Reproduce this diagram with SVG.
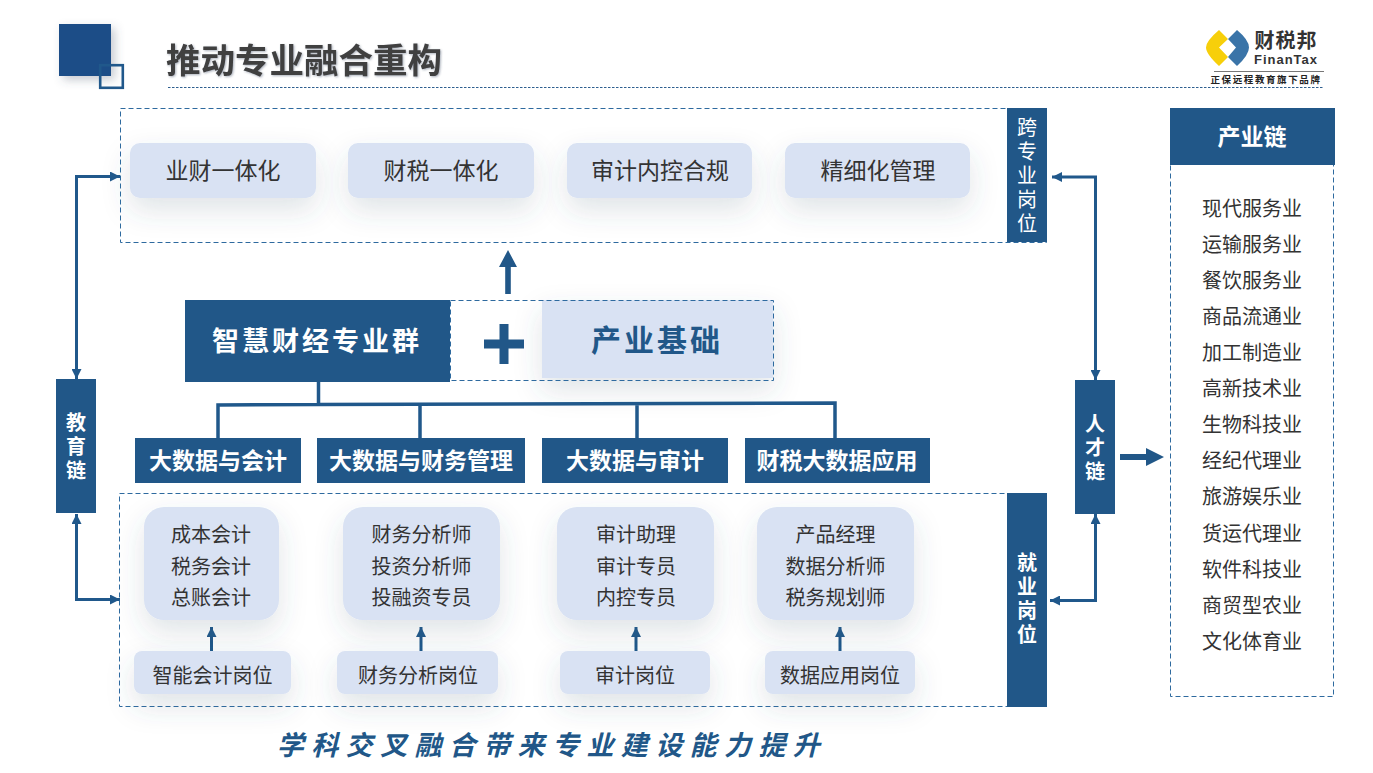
<svg xmlns="http://www.w3.org/2000/svg" width="1373" height="773" viewBox="0 0 1373 773">
<defs>
<filter id="sh" x="-40%" y="-60%" width="180%" height="260%"><feDropShadow dx="0" dy="12" stdDeviation="14" flood-color="#44546a" flood-opacity="0.16"/></filter>
<filter id="sh2" x="-30%" y="-30%" width="170%" height="170%"><feDropShadow dx="4" dy="4" stdDeviation="5" flood-color="#44546a" flood-opacity="0.3"/></filter>
<filter id="ts" x="-5%" y="-20%" width="110%" height="150%"><feDropShadow dx="1" dy="1" stdDeviation="1" flood-color="#44546a" flood-opacity="0.45"/></filter>
<marker id="ah" markerWidth="10" markerHeight="10" refX="8" refY="4" orient="auto-start-reverse" markerUnits="userSpaceOnUse" viewBox="0 0 8 8"><path d="M0 0L8 4L0 8Z" fill="#20588b"/></marker>
</defs>
<style>
text{font-family:"Noto Sans CJK SC","Noto Sans",sans-serif;text-anchor:middle}
.dash{fill:none;stroke:#2e6a9f;stroke-width:1;stroke-dasharray:5 3}
.pill{fill:#d9e2f3;filter:url(#sh)}
.blue{fill:#215788}
.conn{fill:none;stroke:#20588b;stroke-width:3}
.t23{font-size:23px;fill:#333}
.t20{font-size:20px;fill:#333}
.h23{font-size:23px;font-weight:700;fill:#fff}
.v{font-size:20px;fill:#fff;writing-mode:vertical-rl;letter-spacing:4px}
.vb{font-size:20px;font-weight:700;fill:#fff;writing-mode:vertical-rl;letter-spacing:4px}
.ind{font-size:20px;fill:#333}
</style>
<rect width="1373" height="773" fill="#fff"/>

<g id="header">
<rect x="59" y="24" width="52" height="52" fill="#1f4e87" filter="url(#sh2)"/>
<rect x="100.200" y="65.200" width="22.600" height="22.600" fill="none" stroke="#20588b" stroke-width="2.600"/>
<text x="304" y="73" style="font-size:34.500px;font-weight:700;fill:#404040" filter="url(#ts)">推动专业融合重构</text>
<line x1="168" y1="87.500" x2="1323" y2="87.500" stroke="#2e5f8f" stroke-width="1" stroke-dasharray="2.500 1.500"/>
</g>

<g id="logo">
<path d="M1219 30L1228 39L1219 47.500L1228 57L1219 66Q1206 54 1206 47.500Q1206 41 1219 30Z" fill="#f7cf0a"/>
<path d="M1237 30Q1249 40 1249 47.500Q1249 55 1237 66L1228 57L1236 47.500L1228 39Z" fill="#3a74a8"/>
<text x="1286" y="48" style="font-size:20px;font-weight:700;fill:#333;letter-spacing:1px">财税邦</text>
<text x="1286" y="64" style="font-size:13px;font-weight:700;fill:#333;letter-spacing:1px;font-family:'Liberation Sans',sans-serif">FinanTax</text>
<line x1="1214" y1="71.500" x2="1324" y2="71.500" stroke="#777" stroke-width="1"/>
<text x="1266" y="83" style="font-size:9.500px;font-weight:700;fill:#222;letter-spacing:1.600px">正保远程教育旗下品牌</text>
</g>

<g id="cross-panel">
<rect class="dash" x="120.500" y="108.500" width="926" height="134"/>
<rect class="blue" x="1007" y="108" width="40" height="134"/>
<text class="v" x="1027" y="177">跨专业岗位</text>
</g>
<g id="n-yecai"><rect class="pill" x="130" y="143" width="186" height="55" rx="10"/><text class="t23" x="223" y="179">业财一体化</text></g>
<g id="n-caishui"><rect class="pill" x="348" y="143" width="186" height="55" rx="10"/><text class="t23" x="441" y="179">财税一体化</text></g>
<g id="n-shenji"><rect class="pill" x="567" y="143" width="185" height="55" rx="10"/><text class="t23" x="660" y="179">审计内控合规</text></g>
<g id="n-jingxi"><rect class="pill" x="785" y="143" width="185" height="55" rx="10"/><text class="t23" x="878" y="179">精细化管理</text></g>

<g id="center">
<rect x="542" y="300" width="231" height="78" fill="#d9e2f3" filter="url(#sh)"/>
<rect class="dash" x="450.500" y="300.500" width="323" height="80"/>
<rect class="blue" x="185" y="300" width="265" height="82"/>
<text x="317" y="351" style="font-size:27px;font-weight:700;fill:#fff;letter-spacing:3px">智慧财经专业群</text>
<path d="M484 339.500H499.500V324H508.500V339.500H524V348.500H508.500V364H499.500V348.500H484Z" class="blue"/>
<text x="657" y="351" style="font-size:30px;font-weight:700;fill:#215788;letter-spacing:3px">产业基础</text>
</g>

<g id="connectors">
<path class="blue" d="M505.200 294V267H499L508 250L517 267H510.800V294Z"/>
<path class="conn" style="stroke-width:3.500" d="M318.500 382V404M218 438V405L318 404.500L835 403V438M420 404V438M637 404V438"/>
<path class="conn" marker-start="url(#ah)" marker-end="url(#ah)" d="M76.500 379V176.500H120"/>
<path class="conn" marker-start="url(#ah)" marker-end="url(#ah)" d="M76.500 514V599.500H120"/>
<path class="conn" marker-start="url(#ah)" marker-end="url(#ah)" d="M1095.500 380V177H1052"/>
<path class="conn" marker-start="url(#ah)" marker-end="url(#ah)" d="M1095.500 514V600.500H1050"/>
<path class="blue" d="M1120 454H1146V448L1164 457L1146 466V460H1120Z"/>
<line class="conn" x1="211.500" y1="651" x2="211.500" y2="627" marker-end="url(#ah)"/>
<line class="conn" x1="421" y1="651" x2="421" y2="627" marker-end="url(#ah)"/>
<line class="conn" x1="636" y1="651" x2="636" y2="627" marker-end="url(#ah)"/>
<line class="conn" x1="840" y1="651" x2="840" y2="627" marker-end="url(#ah)"/>
</g>

<g id="m-1"><rect class="blue" x="135" y="438" width="166" height="45"/><text class="h23" x="218" y="469">大数据与会计</text></g>
<g id="m-2"><rect class="blue" x="317" y="438" width="208" height="45"/><text class="h23" x="421" y="469">大数据与财务管理</text></g>
<g id="m-3"><rect class="blue" x="542" y="438" width="186" height="45"/><text class="h23" x="635" y="469">大数据与审计</text></g>
<g id="m-4"><rect class="blue" x="745" y="438" width="185" height="45"/><text class="h23" x="837" y="469">财税大数据应用</text></g>

<g id="job-panel">
<rect class="dash" x="119.500" y="493.500" width="927" height="213"/>
<rect class="blue" x="1007" y="493" width="40" height="214"/>
<text class="vb" x="1027" y="600">就业岗位</text>
</g>
<g id="j-1"><rect class="pill" x="144" y="507" width="135" height="113" rx="20"/><text class="t20" x="211" y="542">成本会计</text><text class="t20" x="211" y="573.500">税务会计</text><text class="t20" x="211" y="604.500">总账会计</text></g>
<g id="j-2"><rect class="pill" x="343" y="507" width="157" height="113" rx="20"/><text class="t20" x="421.500" y="542">财务分析师</text><text class="t20" x="421.500" y="573.500">投资分析师</text><text class="t20" x="421.500" y="604.500">投融资专员</text></g>
<g id="j-3"><rect class="pill" x="557" y="507" width="157" height="113" rx="20"/><text class="t20" x="636" y="542">审计助理</text><text class="t20" x="636" y="573.500">审计专员</text><text class="t20" x="636" y="604.500">内控专员</text></g>
<g id="j-4"><rect class="pill" x="757" y="507" width="157" height="113" rx="20"/><text class="t20" x="835.500" y="542">产品经理</text><text class="t20" x="835.500" y="573.500">数据分析师</text><text class="t20" x="835.500" y="604.500">税务规划师</text></g>
<g id="p-1"><rect class="pill" x="134" y="651" width="157" height="43" rx="8"/><text class="t20" x="212.500" y="683">智能会计岗位</text></g>
<g id="p-2"><rect class="pill" x="337" y="651" width="161" height="43" rx="8"/><text class="t20" x="418" y="683">财务分析岗位</text></g>
<g id="p-3"><rect class="pill" x="560" y="651" width="150" height="43" rx="8"/><text class="t20" x="635" y="683">审计岗位</text></g>
<g id="p-4"><rect class="pill" x="765" y="651" width="150" height="43" rx="8"/><text class="t20" x="840" y="683">数据应用岗位</text></g>

<g id="edu-chain"><rect class="blue" x="56" y="379" width="40" height="134"/><text class="vb" x="76" y="448">教育链</text></g>
<g id="talent-chain"><rect class="blue" x="1075" y="380" width="40" height="134"/><text class="vb" x="1095" y="449">人才链</text></g>

<g id="industry">
<rect class="dash" x="1170.500" y="108.500" width="163" height="588"/>
<rect class="blue" x="1170" y="108" width="165" height="57"/>
<text x="1252" y="145" style="font-size:23px;font-weight:700;fill:#fff">产业链</text>
<text class="ind" x="1252" y="216">现代服务业</text>
<text class="ind" x="1252" y="252">运输服务业</text>
<text class="ind" x="1252" y="288">餐饮服务业</text>
<text class="ind" x="1252" y="324">商品流通业</text>
<text class="ind" x="1252" y="360">加工制造业</text>
<text class="ind" x="1252" y="396">高新技术业</text>
<text class="ind" x="1252" y="432">生物科技业</text>
<text class="ind" x="1252" y="468">经纪代理业</text>
<text class="ind" x="1252" y="504">旅游娱乐业</text>
<text class="ind" x="1252" y="541">货运代理业</text>
<text class="ind" x="1252" y="577">软件科技业</text>
<text class="ind" x="1252" y="613">商贸型农业</text>
<text class="ind" x="1252" y="649">文化体育业</text>
</g>

<text id="footer" x="552" y="755" style="font-size:27px;font-weight:700;font-style:italic;fill:#215788;letter-spacing:7.400px">学科交叉融合带来专业建设能力提升</text>
</svg>
